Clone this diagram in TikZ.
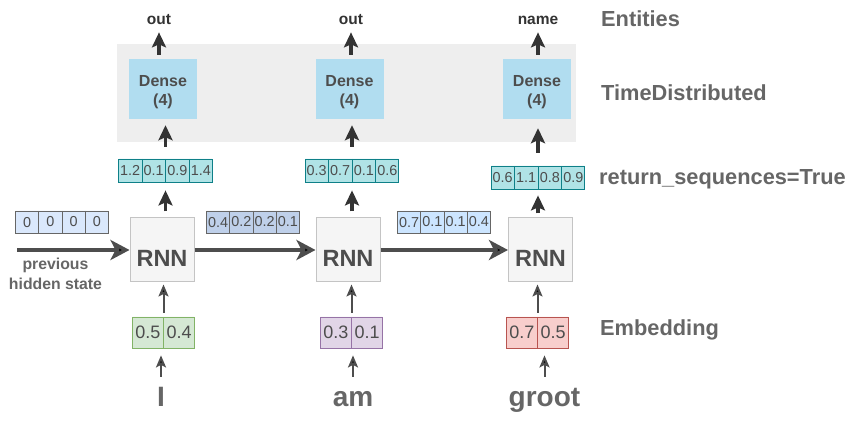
\documentclass[tikz,border=0pt]{standalone}
\usepackage{fontspec}
\setmainfont{Liberation Sans}
\usetikzlibrary{arrows.meta, shapes.multipart}

\definecolor{txtdark}{HTML}{4D4D4D}
\definecolor{txtgray}{HTML}{666666}
\definecolor{arrowdark}{HTML}{333333}
\definecolor{bgfill}{HTML}{EEEEEE}
\definecolor{densefill}{HTML}{B1DDF0}
\definecolor{rnnfill}{HTML}{F5F5F5}
\definecolor{rnnline}{HTML}{C4C4C4}
\definecolor{seqfill}{HTML}{B0E3E6}
\definecolor{seqline}{HTML}{0E8088}
\definecolor{statea}{HTML}{DAE8FC}
\definecolor{stateb}{HTML}{BFD0EA}
\definecolor{statec}{HTML}{CCE5FF}
\definecolor{embgreen}{HTML}{D5E8D4}
\definecolor{embgreenline}{HTML}{82B366}
\definecolor{embpurple}{HTML}{E1D5E7}
\definecolor{embpurpleline}{HTML}{9673A6}
\definecolor{embred}{HTML}{F8CECC}
\definecolor{embredline}{HTML}{B85450}

\tikzset{
	layerlabel/.style={anchor=base west, inner sep=0pt, text=txtgray, font=\bfseries\fontsize{21.8}{26}\selectfont},
	outlabel/.style={anchor=base, inner sep=0pt, text=arrowdark, font=\bfseries\fontsize{15.5}{18}\selectfont},
	word/.style={anchor=base, inner sep=0pt, text height=20pt, text=txtgray, font=\bfseries\fontsize{28}{32}\selectfont},
	densebox/.style={fill=densefill, minimum width=68pt, minimum height=60pt, align=center, text=txtdark, text height=36pt, font=\bfseries\fontsize{16}{19}\selectfont},
	rnnbox/.style={fill=rnnfill, draw=rnnline, line width=1pt, minimum width=64pt, minimum height=64pt, text=txtdark, text height=33pt, text depth=0pt, font=\bfseries\fontsize{23.5}{28}\selectfont},
	cells/.style={rectangle split, rectangle split horizontal, rectangle split parts=#1, inner sep=0pt, line width=0.8pt, text=txtdark, align=center},
	seqvec/.style={cells=4, fill=seqfill, draw=seqline, text width=22.75pt, text height=16.6pt, text depth=6.4pt, font=\fontsize{14.4}{16}\selectfont},
	statevec/.style={cells=4, draw=txtgray, text width=22.5pt, text height=16.1pt, text depth=5.9pt, font=\fontsize{14.4}{16}\selectfont},
	embvec/.style={cells=2, text width=30.5pt, text height=22pt, text depth=9pt, font=\fontsize{18}{20}\selectfont},
	uparrow/.style={draw=arrowdark, line width=3.8pt, -{Stealth[length=15pt, width=14pt, inset=3pt]}},
	thinarrow/.style={draw=txtdark, line width=2pt, -{Stealth[length=12pt, width=10pt, inset=2.5pt]}},
	bigarrow/.style={draw=txtdark, line width=4pt, -{Stealth[length=19pt, width=20pt, inset=5pt]}}
}

\begin{document}
\begin{tikzpicture}[x=1pt, y=-1pt]
	\useasboundingbox (0,0) rectangle (859,427);

	\fill [bgfill] (117,44) rectangle (576,142);

	\node (d1) at (163,89) [densebox] {Dense\\(4)};
	\node (d2) at (349.5,89) [densebox] {Dense\\(4)};
	\node (d3) at (537,89) [densebox] {Dense\\(4)};

	\node (o1) at (159,25) [outlabel] {out};
	\node (o2) at (351,25) [outlabel] {out};
	\node (o3) at (538,25) [outlabel] {name};

	\node (v1) at (165.5,170.5) [seqvec] {1.2 \nodepart{two} 0.1 \nodepart{three} 0.9 \nodepart{four} 1.4};
	\node (v2) at (352,170.5) [seqvec] {0.3 \nodepart{two} 0.7 \nodepart{three} 0.1 \nodepart{four} 0.6};
	\node (v3) at (538,177.5) [seqvec] {0.6 \nodepart{two} 1.1 \nodepart{three} 0.8 \nodepart{four} 0.9};

	\node (r1) at (162,250) [rnnbox] {RNN};
	\node (r2) at (348,250) [rnnbox] {RNN};
	\node (r3) at (540.5,250) [rnnbox] {RNN};

	\node (h0) at (62,222) [statevec, fill=statea] {0 \nodepart{two} 0 \nodepart{three} 0 \nodepart{four} 0};
	\node (h1) at (253,222) [statevec, fill=stateb] {0.4 \nodepart{two} 0.2 \nodepart{three} 0.2 \nodepart{four} 0.1};
	\node (h2) at (444,222) [statevec, fill=statec] {0.7 \nodepart{two} 0.1 \nodepart{three} 0.1 \nodepart{four} 0.4};

	\node (e1) at (163.5,332.5) [embvec, fill=embgreen, draw=embgreenline] {0.5 \nodepart{two} 0.4};
	\node (e2) at (351.5,332.5) [embvec, fill=embpurple, draw=embpurpleline] {0.3 \nodepart{two} 0.1};
	\node (e3) at (537.5,332.5) [embvec, fill=embred, draw=embredline] {0.7 \nodepart{two} 0.5};

	\node (w1) at (161,406) [word] {I};
	\node (w2) at (353,406) [word] {am};
	\node (w3) at (544.5,406) [word] {groot};

	\node (hs) at (55.5,274) [align=center, text=txtgray, font=\bfseries\fontsize{15.8}{20}\selectfont] {previous\\hidden state};
	\coordinate (start) at (17,250);

	\node (l1) at (601,27) [layerlabel] {Entities};
	\node (l2) at (601,101) [layerlabel] {TimeDistributed};
	\node (l3) at (599,185) [layerlabel] {return\_sequences=True};
	\node (l4) at (600,336) [layerlabel] {Embedding};

	\draw [bigarrow] (start) -- (r1.west);
	\draw [bigarrow] (r1.east) -- (r2.west);
	\draw [bigarrow] (r2.east) -- (r3.west);

	\draw [uparrow, shorten <=4pt, shorten >=7pt] (o1.south |- d1.north) -- (o1.south);
	\draw [uparrow, shorten <=4pt, shorten >=7pt] (o2.south |- d2.north) -- (o2.south);
	\draw [uparrow, shorten <=4pt, shorten >=7pt] (o3.south |- d3.north) -- (o3.south);

	\draw [uparrow, shorten <=12pt, shorten >=6pt] (v1.north) -- (v1.north |- d1.south);
	\draw [uparrow, shorten <=12pt, shorten >=6pt] (v2.north) -- (v2.north |- d2.south);
	\draw [uparrow, shorten <=13pt, shorten >=9pt] (v3.north) -- (v3.north |- d3.south);

	\draw [uparrow, shorten <=6pt, shorten >=8pt] (v1.south |- r1.north) -- (v1.south);
	\draw [uparrow, shorten <=6pt, shorten >=8pt] (v2.south |- r2.north) -- (v2.south);
	\draw [uparrow, shorten <=4pt, shorten >=6pt] (v3.south |- r3.north) -- (v3.south);

	\draw [thinarrow, shorten <=4pt, shorten >=2pt] (e1.north) -- (e1.north |- r1.south);
	\draw [thinarrow, shorten <=4pt, shorten >=2pt] (e2.north) -- (e2.north |- r2.south);
	\draw [thinarrow, shorten <=4pt, shorten >=2pt] (e3.north) -- (e3.north |- r3.south);

	\draw [thinarrow, shorten <=9pt, shorten >=7pt] (w1.north) -- (w1.north |- e1.south);
	\draw [thinarrow, shorten <=9pt, shorten >=7pt] (w2.north) -- (w2.north |- e2.south);
	\draw [thinarrow, shorten <=9pt, shorten >=7pt] (w3.north) -- (w3.north |- e3.south);
\end{tikzpicture}
\end{document}
